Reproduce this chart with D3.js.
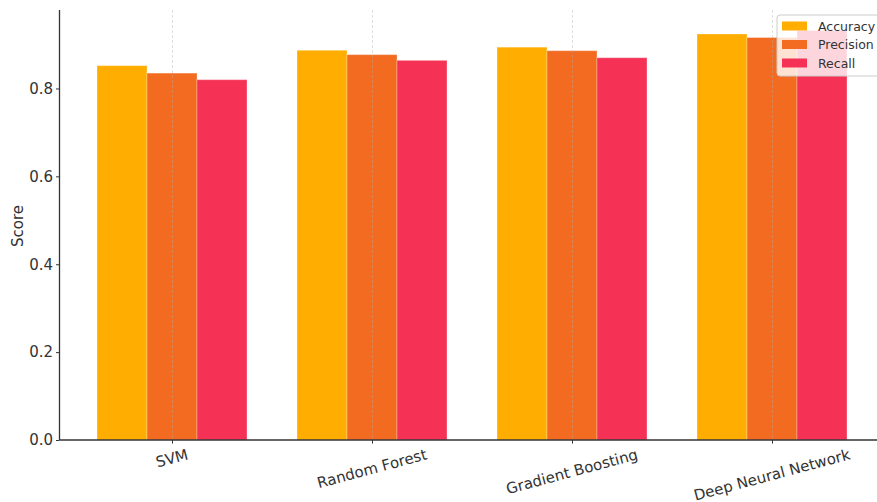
<!DOCTYPE html>
<html><head><meta charset="utf-8">
<script src="https://cdn.jsdelivr.net/npm/d3@7"></script>
<style>body{margin:0;background:#fff}svg{display:block}text{font-family:"DejaVu Sans",sans-serif;}</style>
</head><body><svg id="c" width="877" height="502"></svg>
<script>
const categories = ["SVM", "Random Forest", "Gradient Boosting", "Deep Neural Network"];
const seriesNames = ["Accuracy", "Precision", "Recall"];
const accuracy = [0.852, 0.887, 0.894, 0.924];
const precision = [0.835, 0.877, 0.886, 0.916];
const recall = [0.820, 0.864, 0.870, 0.932];
const yTicks = [0.0, 0.2, 0.4, 0.6, 0.8];
const colors = ["#FFAD00", "#F26B21", "#F53255"];

(function () {
const series = [accuracy, precision, recall];
const svg = d3.select("#c");
const pl = 59.5, pr = 884.5, pt = 10, pb = 440;
const yMax = d3.max(series.flat()) * 1.05;
const x = d3.scaleLinear().domain([-0.5625, 3.5625]).range([pl, pr]);
const y = d3.scaleLinear().domain([0, yMax]).range([pb, pt]);
const bw = 0.25;
const fs = 15;

// bars
series.forEach((vals, si) => {
  svg.append("g").selectAll("rect").data(vals).join("rect")
    .attr("x", (d, i) => x(i + (si - 1) * bw - bw / 2))
    .attr("width", x(bw) - x(0))
    .attr("y", d => y(d))
    .attr("height", d => y(0) - y(d))
    .attr("fill", colors[si])
    .attr("stroke", "#fff").attr("stroke-opacity", 0.3).attr("stroke-width", 1);
});

// vertical grid
svg.append("g").selectAll("line").data(categories).join("line")
  .attr("x1", (d, i) => x(i) + 0.5).attr("x2", (d, i) => x(i) + 0.5)
  .attr("y1", pt).attr("y2", pb)
  .attr("stroke", "#b0b0b0").attr("stroke-opacity", 0.5)
  .attr("stroke-dasharray", "3,2").attr("stroke-width", 0.8);

// y axis
const ya = svg.append("g").attr("transform", `translate(${pl},0)`)
  .call(d3.axisLeft(y).tickValues(yTicks).tickFormat(d3.format(".1f")).tickSize(3.5).tickPadding(3));
ya.select(".domain").attr("stroke", "#333").attr("stroke-width", 1.3).attr("d", `M0,${pt}V${pb}`);
ya.selectAll(".tick line").attr("stroke", "#333");
ya.selectAll("text").attr("font-size", fs + "px").attr("fill", "#333").attr("font-family", "DejaVu Sans");

// x axis
const xa = svg.append("g").attr("transform", `translate(0,${pb})`)
  .call(d3.axisBottom(x).tickValues(d3.range(categories.length)).tickFormat("").tickSize(3.5));
xa.select(".domain").attr("stroke", "#333").attr("stroke-width", 1.3).attr("d", `M${pl},0H${pr}`);
xa.selectAll(".tick line").attr("stroke", "#333");

// x labels rotated
const ang = 15 * Math.PI / 180;
categories.forEach((c, i) => {
  const t = svg.append("text").text(c).attr("font-size", fs + "px").attr("fill", "#333")
    .attr("text-anchor", "middle").attr("dominant-baseline", "central");
  const w = t.node().getComputedTextLength();
  const h = fs;
  const cx = x(i), cy = pb + 7 + (w * Math.sin(ang) + h * Math.cos(ang)) / 2;
  t.attr("x", cx).attr("y", cy).attr("transform", `rotate(-15,${cx},${cy})`);
});

// y label
svg.append("text").text("Score").attr("font-size", fs + "px").attr("fill", "#333")
  .attr("text-anchor", "middle").attr("transform", `translate(23,${(pt + pb) / 2 + 1}) rotate(-90)`);

// legend
const lg = svg.append("g").attr("transform", "translate(777,15)");
lg.append("rect").attr("width", 110).attr("height", 61).attr("rx", 3)
  .attr("fill", "#fff").attr("fill-opacity", 0.8).attr("stroke", "#ccc").attr("stroke-width", 1);
seriesNames.forEach((n, i) => {
  const yy = 11 + i * 18.5;
  lg.append("rect").attr("x", 5).attr("y", yy - 4.5).attr("width", 25).attr("height", 9).attr("fill", colors[i]);
  lg.append("text").text(n).attr("x", 41).attr("y", yy).attr("dominant-baseline", "central")
    .attr("font-size", "12.5px").attr("fill", "#333");
});
})();
</script></body></html>
